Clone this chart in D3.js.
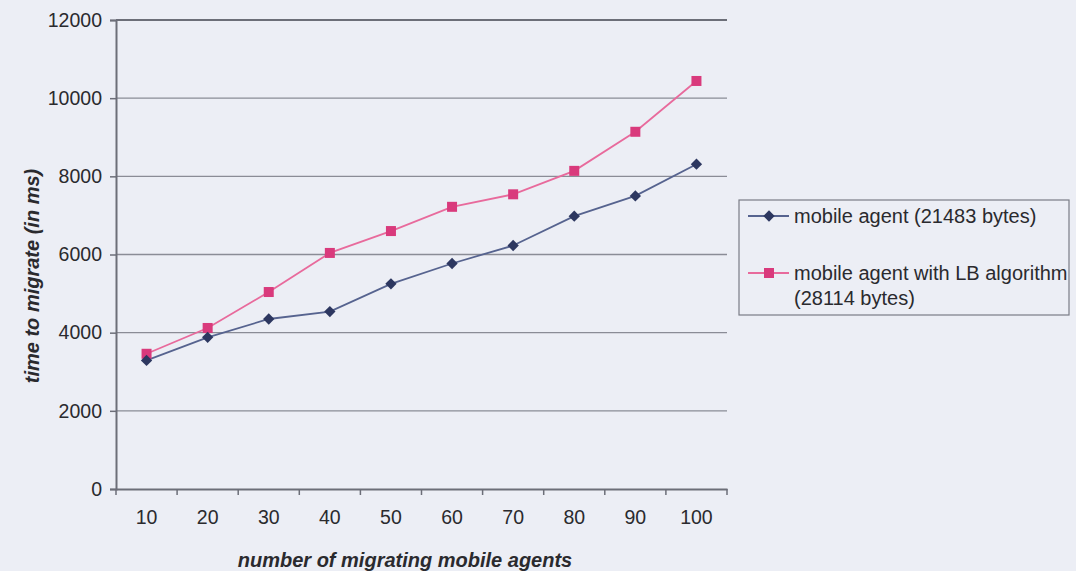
<!DOCTYPE html>
<html><head><meta charset="utf-8">
<script src="https://cdn.jsdelivr.net/npm/d3@7"></script>
<style>
html,body{margin:0;padding:0;background:#eceef5;}
svg{display:block;font-family:Arial,"Liberation Sans",sans-serif;}
</style></head>
<body>
<svg id="c" width="1076" height="571"></svg>
<script>
const categories = ["10","20","30","40","50","60","70","80","90","100"];
const seriesNames = ["mobile agent (21483 bytes)", "mobile agent with LB algorithm (28114 bytes)"];
const mobileAgent = [3290, 3880, 4350, 4540, 5250, 5770, 6230, 6980, 7500, 8310];
const mobileAgentLB = [3460, 4120, 5040, 6040, 6600, 7220, 7540, 8140, 9140, 10440];
const yTicks = [0, 2000, 4000, 6000, 8000, 10000, 12000];

(function () {
const svg = d3.select("#c");
const W = 1076, H = 571;
const FONT = "Arial, 'Liberation Sans', sans-serif";
const TXT = "#2a2a2e";
svg.append("rect").attr("width", W).attr("height", H).attr("fill", "#eceef5");

const pL = 116, pR = 727, pT = 20, pB = 489;
const x = d3.scaleBand().domain(categories).range([pL, pR]);
const y = d3.scaleLinear().domain([0, 12000]).range([pB, pT]);

// gridlines
svg.append("g").selectAll("line").data(yTicks.filter(d => d > 0)).join("line")
  .attr("x1", pL).attr("x2", pR)
  .attr("y1", d => y(d)).attr("y2", d => y(d))
  .attr("stroke", d => d === 12000 ? "#6c6e78" : "#8a8c96")
  .attr("stroke-width", d => d === 12000 ? 2 : 1.3);

// y axis
const yAxis = svg.append("g").attr("transform", `translate(${pL},0)`)
  .call(d3.axisLeft(y).tickValues(yTicks).tickSize(6).tickPadding(8).tickFormat(d3.format("d")));
yAxis.select(".domain").attr("stroke", "#6c6e78").attr("stroke-width", 2);
yAxis.selectAll(".tick line").attr("stroke", "#6c6e78").attr("stroke-width", 1.5);
yAxis.selectAll("text").attr("font-size", 19.5).attr("fill", TXT).attr("font-family", FONT);

// x axis
const xAxis = svg.append("g").attr("transform", `translate(0,${pB})`)
  .call(d3.axisBottom(x).tickSize(0).tickPadding(21));
xAxis.select(".domain").attr("stroke", "#6c6e78").attr("stroke-width", 2);
xAxis.selectAll("text").attr("font-size", 19.5).attr("fill", TXT).attr("font-family", FONT);
// category boundary tick marks
svg.append("g").selectAll("line").data(categories).join("line")
  .attr("x1", d => x(d)).attr("x2", d => x(d))
  .attr("y1", pB).attr("y2", pB + 6)
  .attr("stroke", "#6c6e78").attr("stroke-width", 1.5);
svg.append("line").attr("x1", pR).attr("x2", pR).attr("y1", pB).attr("y2", pB + 6)
  .attr("stroke", "#6c6e78").attr("stroke-width", 1.5);

// axis titles
svg.append("text").attr("x", 405).attr("y", 567).attr("text-anchor", "middle")
  .attr("font-size", 20).attr("font-style", "italic").attr("font-weight", "bold").attr("fill", TXT)
  .text("number of migrating mobile agents");
svg.append("text").attr("transform", "translate(39,276) rotate(-90)").attr("text-anchor", "middle")
  .attr("font-size", 20).attr("font-style", "italic").attr("font-weight", "bold").attr("fill", TXT)
  .text("time to migrate (in ms)");

const cx = d => x(d) + x.bandwidth() / 2;
const line = d3.line().x(d => cx(d.c)).y(d => y(d.v));
const s1 = categories.map((c, i) => ({c, v: mobileAgent[i]}));
const s2 = categories.map((c, i) => ({c, v: mobileAgentLB[i]}));

const blueLine = "#56638f", blueMark = "#2d3760";
const pinkLine = "#e86a9c", pinkMark = "#d93a7c";

svg.append("path").datum(s2).attr("d", line).attr("fill", "none").attr("stroke", pinkLine).attr("stroke-width", 1.8);
svg.append("path").datum(s1).attr("d", line).attr("fill", "none").attr("stroke", blueLine).attr("stroke-width", 1.8);

svg.append("g").selectAll("rect").data(s2).join("rect")
  .attr("x", d => cx(d.c) - 5).attr("y", d => y(d.v) - 5).attr("width", 10).attr("height", 10)
  .attr("fill", pinkMark);
svg.append("g").selectAll("path").data(s1).join("path")
  .attr("d", d3.symbol(d3.symbolSquare, 64))
  .attr("transform", d => `translate(${cx(d.c)},${y(d.v)}) rotate(45)`)
  .attr("fill", blueMark);

// legend
const lg = svg.append("g");
lg.append("rect").attr("x", 739).attr("y", 200).attr("width", 330).attr("height", 115)
  .attr("fill", "none").attr("stroke", "#7a7c86").attr("stroke-width", 1.2);
lg.append("line").attr("x1", 748).attr("x2", 789).attr("y1", 216).attr("y2", 216).attr("stroke", blueLine).attr("stroke-width", 1.8);
lg.append("path").attr("d", d3.symbol(d3.symbolSquare, 64)).attr("transform", "translate(769,216) rotate(45)").attr("fill", blueMark);
lg.append("text").attr("x", 794).attr("y", 222.5).attr("font-size", 20).attr("fill", TXT).attr("font-family", FONT).text(seriesNames[0]);
lg.append("line").attr("x1", 748).attr("x2", 789).attr("y1", 273).attr("y2", 273).attr("stroke", pinkLine).attr("stroke-width", 1.8);
lg.append("rect").attr("x", 764).attr("y", 268).attr("width", 10).attr("height", 10).attr("fill", pinkMark);
lg.append("text").attr("x", 794).attr("y", 280).attr("font-size", 20).attr("fill", TXT).attr("font-family", FONT).text("mobile agent with LB algorithm");
lg.append("text").attr("x", 794).attr("y", 305).attr("font-size", 20).attr("fill", TXT).attr("font-family", FONT).text("(28114 bytes)");
})();
</script>
</body></html>
